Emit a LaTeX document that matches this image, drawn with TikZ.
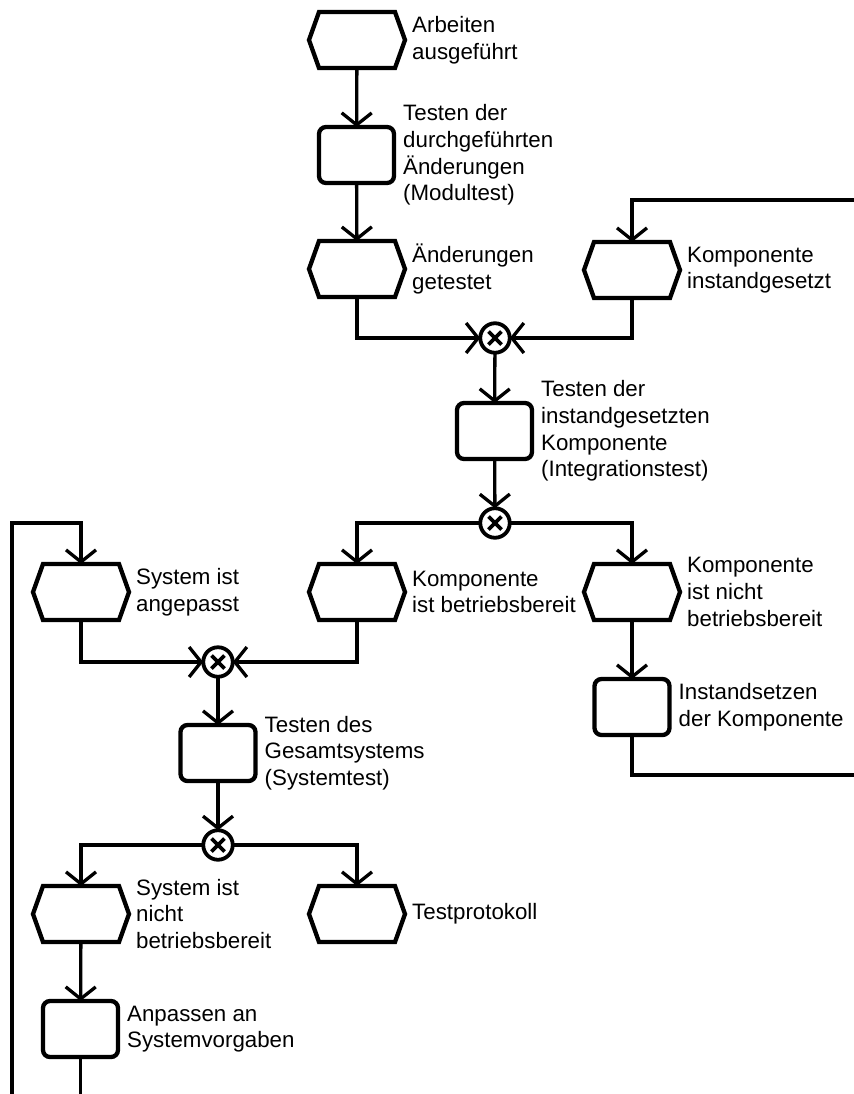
\documentclass[tikz,border=0pt]{standalone}
\usepackage{fontspec}
\setmainfont{Liberation Sans}
\usetikzlibrary{arrows.meta}

\tikzset{
  conn/.style={line width=3.3bp, -{Straight Barb[length=12bp,width=30bp]}},
  evtbox/.style={draw=none, minimum width=96bp, minimum height=56bp, inner sep=0pt, outer sep=0pt},
  evtline/.style={line width=4.3bp, line join=miter},
  fnbox/.style={draw, line width=4.3bp, rounded corners=7bp, minimum width=75bp, minimum height=56bp, inner sep=0pt, outer sep=0pt},
  xorbox/.style={circle, draw, line width=3.8bp, minimum size=29.5bp, inner sep=0pt, outer sep=0pt,
    path picture={
      \draw[line width=3.8bp]
        ([shift={(-6.5bp,-6.5bp)}]path picture bounding box.center) -- ([shift={(6.5bp,6.5bp)}]path picture bounding box.center)
        ([shift={(-6.5bp,6.5bp)}]path picture bounding box.center) -- ([shift={(6.5bp,-6.5bp)}]path picture bounding box.center);
    }},
  lbl/.style={anchor=west, align=left, inner sep=0pt, font=\fontsize{22.3bp}{26.7bp}\selectfont},
}

% event: hexagon with its label to the right
\newcommand\evtshape[3]{%
  \node[evtbox] (#1) at (#2) {};
  \draw[evtline] (#1.west) -- ([xshift=10bp]#1.north west) -- ([xshift=-10bp]#1.north east)
    -- (#1.east) -- ([xshift=-10bp]#1.south east) -- ([xshift=10bp]#1.south west) -- cycle;
  \node[lbl] (#1-t) at ([xshift=7bp]#1.east) {#3};
}
% function: rounded box with its label to the right
\newcommand\fnshape[3]{%
  \node[fnbox] (#1) at (#2) {};
  \node[lbl] (#1-t) at ([xshift=9bp]#1.east) {#3};
}

\begin{document}
\begin{tikzpicture}[x=1bp,y=-1bp]
  \useasboundingbox (0,0) rectangle (854,1094);
  \clip (0,0) rectangle (854,1094);

  % module test
  \evtshape{e1}{357,40}{Arbeiten\\ausgeführt}
  \fnshape{f1}{356.5,155}{Testen der\\durchgeführten\\Änderungen\\(Modultest)}
  \evtshape{e2}{357,269}{Änderungen\\getestet}
  \evtshape{e3}{632,270}{Komponente\\instandgesetzt}
  \node[xorbox] (x1) at (495,338) {};

  % integration test
  \fnshape{f2}{494.5,431}{Testen der\\instandgesetzten\\Komponente\\(Integrationstest)}
  \node[xorbox] (x2) at (495,523) {};
  \evtshape{e4}{81,592}{System ist\\angepasst}
  \evtshape{e5}{357,592}{Komponente\\ist betriebsbereit}
  \evtshape{e6}{632,592}{Komponente\\ist nicht\\betriebsbereit}
  \fnshape{f4}{632,707}{Instandsetzen\\der Komponente}

  % system test
  \node[xorbox] (x3) at (218,662) {};
  \fnshape{f3}{218,753}{Testen des\\Gesamtsystems\\(Systemtest)}
  \node[xorbox] (x4) at (218,845) {};
  \evtshape{e7}{81,914}{System ist\\nicht\\betriebsbereit}
  \evtshape{e8}{357,914}{Testprotokoll}
  \fnshape{f5}{80.5,1029}{Anpassen an\\Systemvorgaben}

  % control flow
  \draw[conn] (e1) -- (f1);
  \draw[conn] (f1) -- (e2);
  \draw[conn] (e2.south) |- (x1.west);
  \draw[conn] (e3.south) |- (x1.east);
  \draw[conn] (x1) -- (f2);
  \draw[conn] (f2) -- (x2);
  \draw[conn] (x2.west) -| (e5.north);
  \draw[conn] (x2.east) -| (e6.north);
  \draw[conn] (e6) -- (f4);
  \draw[conn] (e4.south) |- (x3.west);
  \draw[conn] (e5.south) |- (x3.east);
  \draw[conn] (x3) -- (f3);
  \draw[conn] (f3) -- (x4);
  \draw[conn] (x4.west) -| (e7.north);
  \draw[conn] (x4.east) -| (e8.north);
  \draw[conn] (e7) -- (f5);

  % loops back
  \coordinate (rloop) at (900,775);
  \coordinate (rtop) at (900,200);
  \draw[conn] (f4.south) |- (rloop) -- (rtop) -| (e3.north);
  \coordinate (lloop) at (80.5,1130);
  \coordinate (ltop) at (12,523);
  \draw[conn] (f5.south) -- (lloop) -| (ltop) -| (e4.north);
\end{tikzpicture}
\end{document}
